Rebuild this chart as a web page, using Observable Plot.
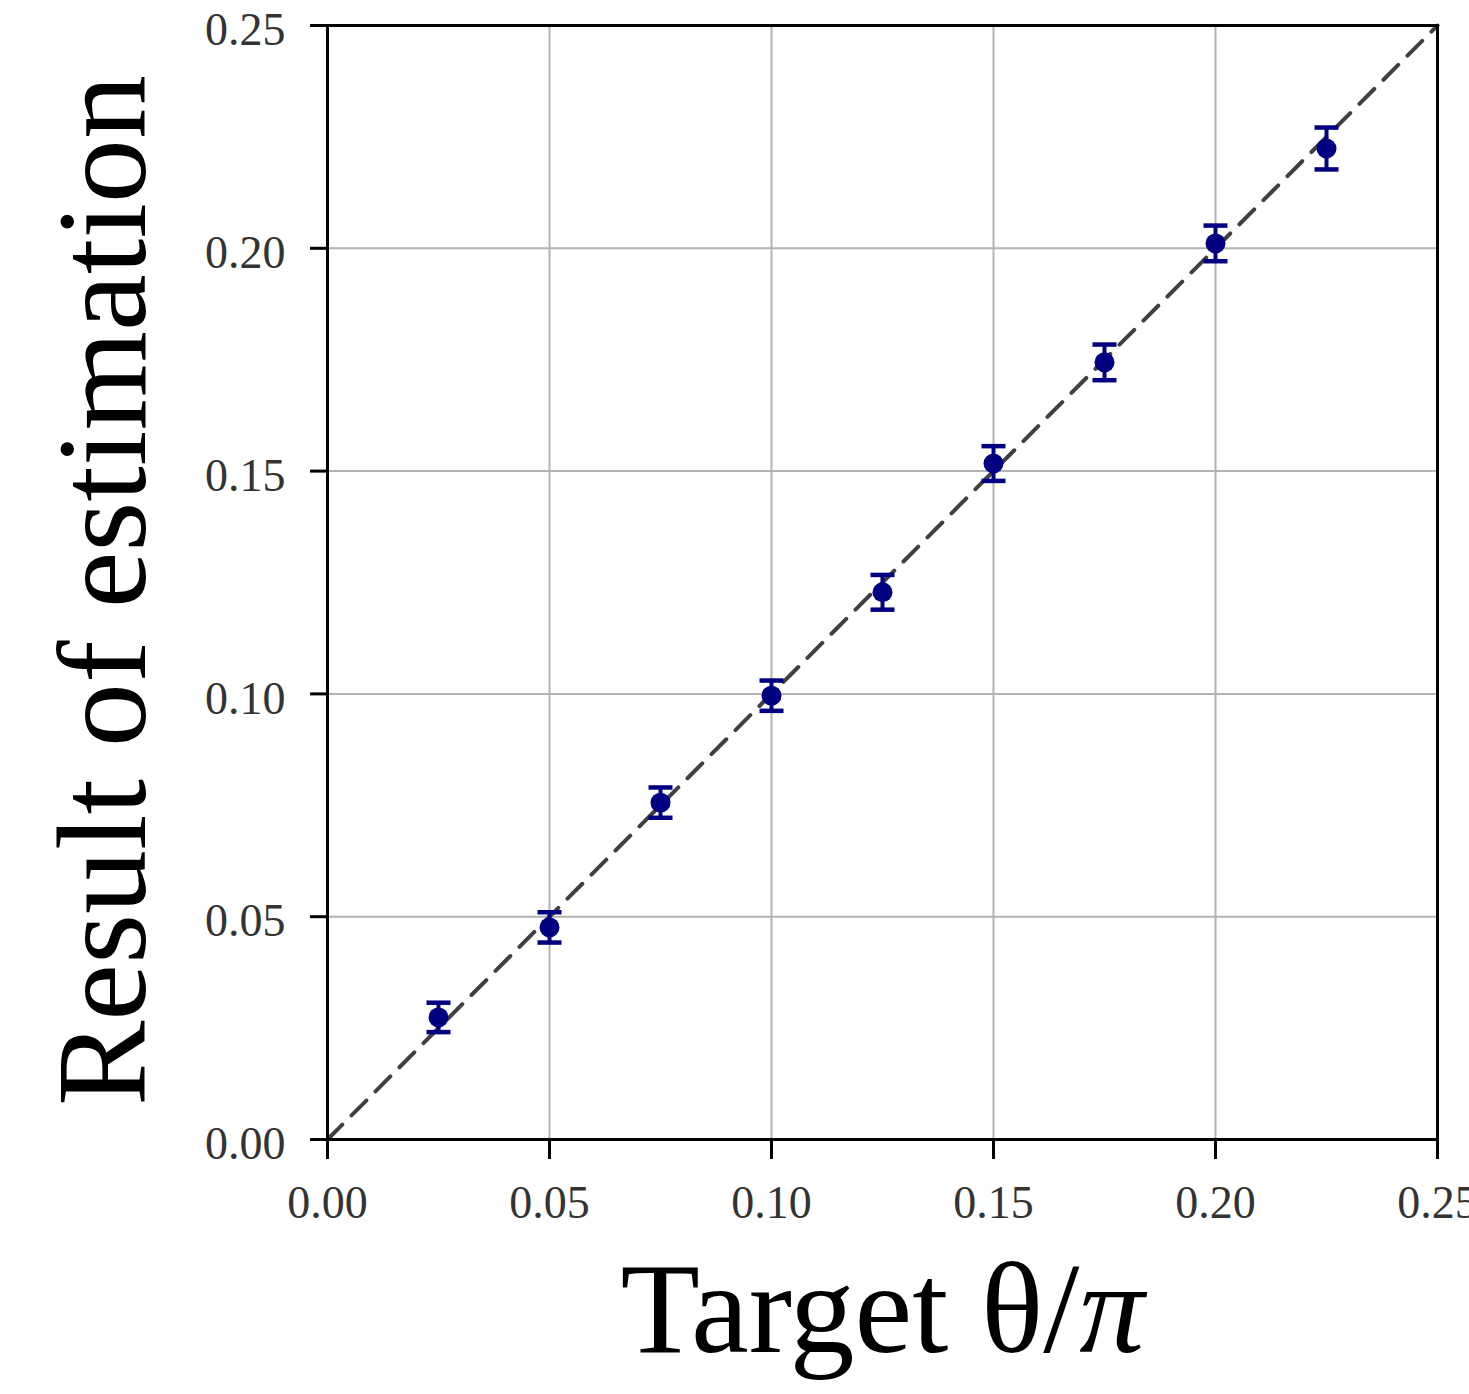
<!DOCTYPE html>
<html>
<head>
<meta charset="utf-8">
<script src="https://cdn.jsdelivr.net/npm/d3@7"></script>
<script src="https://cdn.jsdelivr.net/npm/@observablehq/plot@0.6"></script>
<style>
  html, body { margin: 0; padding: 0; background: #fff; overflow: hidden; }
  #chart svg { overflow: visible; }
</style>
</head>
<body>
<div id="chart"></div>
<script>
// Data
const targets   = [0.025, 0.05, 0.075, 0.10, 0.125, 0.15, 0.175, 0.20, 0.225];
const estimates = [0.0274, 0.0476, 0.0756, 0.0996, 0.1228, 0.1517, 0.1744, 0.2011, 0.2224];
const errors    = [0.0033, 0.0034, 0.0034, 0.0034, 0.0039, 0.0039, 0.0040, 0.0040, 0.0047];
const tickValues = [0, 0.05, 0.10, 0.15, 0.20, 0.25];
const diagonal = [0, 0.25];
const xLabel = "Target θ/π";
const yLabel = "Result of estimation";

const points = targets.map((t, i) => ({x: t, y: estimates[i], e: errors[i]}));
const diagData = diagonal.map(v => ({x: v, y: v}));

const capSymbol = {
  draw(context, size) {
    const r = Math.sqrt(size / Math.PI);
    context.moveTo(-r, 0);
    context.lineTo(r, 0);
  }
};

const navy = "#000080";
const serif = "'Liberation Serif', 'Times New Roman', serif";
const fmt = d3.format(".2f");

const chart = Plot.plot({
  width: 1469,
  height: 1394,
  marginLeft: 327,
  marginRight: 32,
  marginTop: 25,
  marginBottom: 255,
  style: {fontFamily: serif, background: "#fff"},
  x: {domain: [0, 0.25], ticks: tickValues, tickFormat: fmt},
  y: {domain: [0, 0.25], ticks: tickValues, tickFormat: fmt},
  marks: [
    Plot.gridX(tickValues, {stroke: "#b3b3b3", strokeOpacity: 1, strokeWidth: 2}),
    Plot.gridY(tickValues, {stroke: "#b3b3b3", strokeOpacity: 1, strokeWidth: 2}),
    Plot.line(diagData, {x: "x", y: "y", stroke: "#404040", strokeWidth: 4, strokeDasharray: "21,13"}),
    Plot.ruleX(points, {x: "x", y1: d => d.y - d.e, y2: d => d.y + d.e, stroke: navy, strokeWidth: 4}),
    Plot.dot(points, {x: "x", y: d => d.y - d.e, symbol: capSymbol, r: 12, stroke: navy, strokeWidth: 4.5, fill: "none"}),
    Plot.dot(points, {x: "x", y: d => d.y + d.e, symbol: capSymbol, r: 12, stroke: navy, strokeWidth: 4.5, fill: "none"}),
    Plot.dot(points, {x: "x", y: "y", r: 10, fill: navy, stroke: "none"}),
    Plot.frame({stroke: "#000", strokeWidth: 3}),
    Plot.axisX(tickValues, {tickFormat: fmt, tickSize: 20, tickPadding: 26, strokeWidth: 3, fontSize: 46, fill: "#333", label: null}),
    Plot.axisY(tickValues, {tickFormat: () => "", tickSize: 17, strokeWidth: 3, label: null}),
    Plot.text(tickValues, {y: d => d, frameAnchor: "left", textAnchor: "end", lineAnchor: "middle", dx: -42, dy: 5, fontSize: 46, fill: "#333", text: d => fmt(d)}),
    Plot.text([xLabel], {frameAnchor: "bottom", dy: 171, fontSize: 130, fill: "#000", textAnchor: "middle", lineAnchor: "middle", text: d => d}),
    Plot.text([yLabel], {frameAnchor: "left", dx: -223, dy: 8, rotate: -90, fontSize: 128, fill: "#000", textAnchor: "middle", lineAnchor: "middle", text: d => d})
  ]
});

// Make π italic in the x label
chart.querySelectorAll("text").forEach(t => {
  if (t.textContent === xLabel) {
    const ns = "http://www.w3.org/2000/svg";
    t.textContent = "";
    const a = document.createElementNS(ns, "tspan");
    a.textContent = "Target θ/";
    const b = document.createElementNS(ns, "tspan");
    b.textContent = "π";
    b.setAttribute("font-style", "italic");
    t.appendChild(a);
    t.appendChild(b);
  }
});

document.getElementById("chart").appendChild(chart);
</script>
</body>
</html>
